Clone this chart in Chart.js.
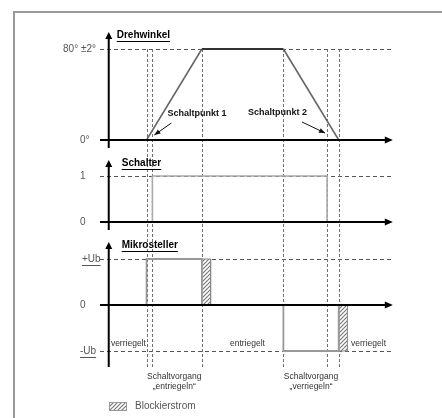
<!DOCTYPE html>
<html>
<head>
<meta charset="utf-8">
<script src="https://cdn.jsdelivr.net/npm/chart.js@4/dist/chart.umd.min.js"></script>
<style>
html, body { margin: 0; padding: 0; background: #fff; }
#wrap { width: 442px; height: 418px; }
</style>
</head>
<body>
<div id="wrap"><canvas id="chart" width="442" height="418"></canvas></div>
<script>
// time runs in arbitrary units, 0 is where the y axes stand
const eventTimes = [13, 15, 32, 60, 75, 79];

const angleTime = [0, 13, 32, 60, 79, 97];
const angleValue = [0, 0, 80, 80, 0, 0];

const switchTime = [0, 15, 15, 75, 75, 97];
const switchValue = [0, 0, 1, 1, 0, 0];

const motorTime = [0, 13, 13, 32, 32, 60, 60, 79, 79, 97];
const motorValue = [0, 0, 1, 1, 0, 0, -1, -1, 0, 0];

// blocking current after each switching run
const blockOpenTime = [32, 32, 35, 35];
const blockOpenValue = [0, 1, 1, 0];
const blockCloseTime = [79, 79, 82, 82];
const blockCloseValue = [0, -1, -1, 0];

const panelTitles = ['Drehwinkel', 'Schalter', 'Mikrosteller'];
const angleTicks = [80, 0];
const angleTickLabels = ['80° ±2°', '0°'];
const switchTicks = [1, 0];
const switchTickLabels = ['1', '0'];
const motorTicks = [1, 0, -1];
const motorTickLabels = ['+Ub', '0', '-Ub'];

const stateLabels = ['verriegelt', 'entriegelt', 'verriegelt'];
const stateTimes = [0.4, 41.3, 82.9];
const runLabels = [['Schaltvorgang', '„entriegeln“'], ['Schaltvorgang', '„verriegeln“']];
const runTimes = [[13, 32], [60, 79]];
const pointLabels = ['Schaltpunkt 1', 'Schaltpunkt 2'];
const pointTimes = [15, 75];
const legendLabel = 'Blockierstrom';

const TOP = 30, BOTTOM = 370;
// three panels share one canvas: each hidden y axis gets a range that puts its
// values into its own band
function span(v1, p1, v2, p2) {
    const k = (p2 - p1) / (v1 - v2);
    return { min: v2 - (BOTTOM - p2) / k, max: v1 + (p1 - TOP) / k };
}
const rangeA = span(80, 49, 0, 140);
const rangeB = span(1, 176, 0, 222);
const rangeC = span(1, 259, -1, 351);

function pts(xs, ys) {
    return xs.map((x, i) => ({ x: x, y: ys[i] }));
}

function makeHatch() {
    const c = document.createElement('canvas');
    c.width = 4; c.height = 4;
    const g = c.getContext('2d');
    g.fillStyle = '#fff';
    g.fillRect(0, 0, 4, 4);
    g.strokeStyle = '#777';
    g.lineWidth = 1.1;
    g.beginPath();
    g.moveTo(0, 4); g.lineTo(4, 0);
    g.moveTo(-1, 1); g.lineTo(1, -1);
    g.moveTo(3, 5); g.lineTo(5, 3);
    g.stroke();
    return document.getElementById('chart').getContext('2d').createPattern(c, 'repeat');
}
const hatch = makeHatch();

function arrowHead(ctx, x, y, dx, dy, len, half) {
    const l = Math.hypot(dx, dy);
    const ux = dx / l, uy = dy / l;
    ctx.beginPath();
    ctx.moveTo(x, y);
    ctx.lineTo(x - ux * len - uy * half, y - uy * len + ux * half);
    ctx.lineTo(x - ux * len + uy * half, y - uy * len - ux * half);
    ctx.closePath();
    ctx.fill();
}

function underlined(ctx, text, x, y, align) {
    ctx.textAlign = align || 'left';
    ctx.fillText(text, x, y);
    const w = ctx.measureText(text).width;
    const x0 = align === 'right' ? x - w : (align === 'center' ? x - w / 2 : x);
    ctx.fillRect(x0, y + 6, w, 1);
}

const diagram = {
    id: 'diagram',
    beforeDatasetsDraw(chart) {
        const ctx = chart.ctx;
        const xs = chart.scales.x, a = chart.scales.yA, b = chart.scales.yB, c = chart.scales.yC;
        const area = chart.chartArea;
        ctx.save();
        // level guides
        ctx.strokeStyle = '#555';
        ctx.lineWidth = 1;
        ctx.setLineDash([4, 3]);
        [a.getPixelForValue(80), b.getPixelForValue(1), c.getPixelForValue(1), c.getPixelForValue(-1)].forEach(y => {
            ctx.beginPath();
            ctx.moveTo(area.left, Math.round(y) + 0.5);
            ctx.lineTo(area.right, Math.round(y) + 0.5);
            ctx.stroke();
        });
        // event guides
        ctx.strokeStyle = '#707070';
        ctx.setLineDash([3, 2]);
        eventTimes.forEach(t => {
            const x = Math.round(xs.getPixelForValue(t)) + 0.5;
            ctx.beginPath();
            ctx.moveTo(x, a.getPixelForValue(80));
            ctx.lineTo(x, c.getPixelForValue(-1) + 17);
            ctx.stroke();
        });
        ctx.restore();
    },
    afterDatasetsDraw(chart) {
        const ctx = chart.ctx;
        const xs = chart.scales.x, a = chart.scales.yA, b = chart.scales.yB, c = chart.scales.yC;
        const area = chart.chartArea;
        const x0 = xs.getPixelForValue(0);
        const xEnd = xs.getPixelForValue(97.6);
        ctx.save();
        ctx.fillStyle = '#000';
        ctx.strokeStyle = '#000';
        ctx.lineWidth = 2;
        const panels = [
            { s: a, top: a.getPixelForValue(80) - 17, bottom: a.getPixelForValue(0) + 8, titleY: a.getPixelForValue(80) - 14, titleDx: 8 },
            { s: b, top: b.getPixelForValue(1) - 16, bottom: b.getPixelForValue(0) + 8, titleY: b.getPixelForValue(1) - 13, titleDx: 13 },
            { s: c, top: c.getPixelForValue(1) - 17, bottom: c.getPixelForValue(-1) + 16, titleY: c.getPixelForValue(1) - 14, titleDx: 13 }
        ];
        panels.forEach((p, i) => {
            const y0 = p.s.getPixelForValue(0);
            ctx.beginPath();
            ctx.moveTo(x0, p.bottom);
            ctx.lineTo(x0, p.top + 5);
            ctx.moveTo(area.left, y0);
            ctx.lineTo(xEnd - 5, y0);
            ctx.stroke();
            arrowHead(ctx, x0, p.top, 0, -1, 7, 3.5);
            arrowHead(ctx, xEnd, y0, 1, 0, 8, 3.5);
            ctx.font = 'bold 10px "Liberation Sans", Arial, sans-serif';
            ctx.textBaseline = 'middle';
            underlined(ctx, panelTitles[i], x0 + p.titleDx, p.titleY);
        });

        // tick labels
        ctx.fillStyle = '#555';
        ctx.font = '10px "Liberation Sans", Arial, sans-serif';
        ctx.textBaseline = 'middle';
        angleTicks.forEach((v, i) => {
            if (i === 0) { ctx.textAlign = 'right'; ctx.fillText(angleTickLabels[i], 96, a.getPixelForValue(v)); }
            else { ctx.textAlign = 'left'; ctx.fillText(angleTickLabels[i], 80, a.getPixelForValue(v)); }
        });
        ctx.textAlign = 'left';
        switchTicks.forEach((v, i) => ctx.fillText(switchTickLabels[i], 80, b.getPixelForValue(v)));
        motorTicks.forEach((v, i) => {
            const lx = motorTickLabels[i] === '+Ub' ? 82 : 80;
            if (motorTickLabels[i] === '0') ctx.fillText(motorTickLabels[i], lx, c.getPixelForValue(v));
            else underlined(ctx, motorTickLabels[i], lx, c.getPixelForValue(v));
        });

        // states and switching runs
        ctx.fillStyle = '#333';
        ctx.font = '8.5px "Liberation Sans", Arial, sans-serif';
        ctx.textAlign = 'left';
        stateLabels.forEach((s, i) => {
            ctx.fillText(s, xs.getPixelForValue(stateTimes[i]) + 1, c.getPixelForValue(-1) - 7);
        });
        ctx.textAlign = 'center';
        runLabels.forEach((lines, i) => {
            const cx = (xs.getPixelForValue(runTimes[i][0]) + xs.getPixelForValue(runTimes[i][1])) / 2;
            lines.forEach((l, j) => ctx.fillText(l, cx, c.getPixelForValue(-1) + 26 + j * 10));
        });

        // switching points
        ctx.fillStyle = '#111';
        ctx.strokeStyle = '#111';
        ctx.lineWidth = 1;
        ctx.font = 'bold 9px "Liberation Sans", Arial, sans-serif';
        const y0a = a.getPixelForValue(0);
        const p1 = { x: xs.getPixelForValue(pointTimes[0]) + 2, y: y0a - 5 };
        const p2 = { x: xs.getPixelForValue(pointTimes[1]) - 2, y: y0a - 7 };
        ctx.textAlign = 'left';
        ctx.fillText(pointLabels[0], p1.x + 13, y0a - 26);
        ctx.fillText(pointLabels[1], p2.x - 77, y0a - 27);
        [[p1, { x: p1.x + 17, y: p1.y - 12 }], [p2, { x: p2.x - 23, y: p2.y - 11 }]].forEach(([tip, tail]) => {
            ctx.beginPath();
            ctx.moveTo(tail.x, tail.y);
            ctx.lineTo(tip.x, tip.y);
            ctx.stroke();
            arrowHead(ctx, tip.x, tip.y, tip.x - tail.x, tip.y - tail.y, 6, 2.5);
        });

        // legend
        ctx.fillStyle = hatch;
        ctx.fillRect(109, 402, 18, 9);
        ctx.strokeStyle = '#999';
        ctx.strokeRect(109.5, 402.5, 17, 8);
        ctx.fillStyle = '#555';
        ctx.font = '10px "Liberation Sans", Arial, sans-serif';
        ctx.textAlign = 'left';
        ctx.fillText(legendLabel, 135, 406.5);

        // frame
        ctx.strokeStyle = '#999';
        ctx.lineWidth = 2;
        ctx.beginPath();
        ctx.moveTo(14, 418);
        ctx.lineTo(14, 12);
        ctx.lineTo(442, 12);
        ctx.stroke();
        ctx.restore();
    }
};

const ctx = document.getElementById('chart').getContext('2d');
const chart = new Chart(ctx, {
    type: 'line',
    data: {
        datasets: [
            {
                data: pts(angleTime, angleValue), yAxisID: 'yA', borderColor: '#666', borderWidth: 1.6,
                segment: {
                    // the end-position plateau is drawn darker than the ramps
                    borderColor: s => (s.p0.parsed.y === 80 && s.p1.parsed.y === 80) ? '#333' : undefined,
                    borderWidth: s => (s.p0.parsed.y === 80 && s.p1.parsed.y === 80) ? 2 : undefined
                }
            },
            { data: pts(switchTime, switchValue), yAxisID: 'yB', borderColor: '#aaa', borderWidth: 1.6 },
            { data: pts(motorTime, motorValue), yAxisID: 'yC', borderColor: '#999', borderWidth: 1.8 },
            { data: pts(blockOpenTime, blockOpenValue), yAxisID: 'yC', borderColor: '#888', borderWidth: 1, backgroundColor: hatch, fill: 'origin' },
            { data: pts(blockCloseTime, blockCloseValue), yAxisID: 'yC', borderColor: '#888', borderWidth: 1, backgroundColor: hatch, fill: 'origin' }
        ]
    },
    options: {
        responsive: false,
        animation: false,
        devicePixelRatio: 1,
        layout: { padding: { left: 100, right: 48, top: TOP, bottom: 418 - BOTTOM } },
        elements: { point: { radius: 0 }, line: { tension: 0 } },
        scales: {
            x: { type: 'linear', min: -3, max: 98, display: false },
            yA: { type: 'linear', min: rangeA.min, max: rangeA.max, display: false },
            yB: { type: 'linear', min: rangeB.min, max: rangeB.max, display: false },
            yC: { type: 'linear', min: rangeC.min, max: rangeC.max, display: false }
        },
        plugins: {
            legend: { display: false },
            tooltip: { enabled: false }
        }
    },
    plugins: [diagram]
});
</script>
</body>
</html>
